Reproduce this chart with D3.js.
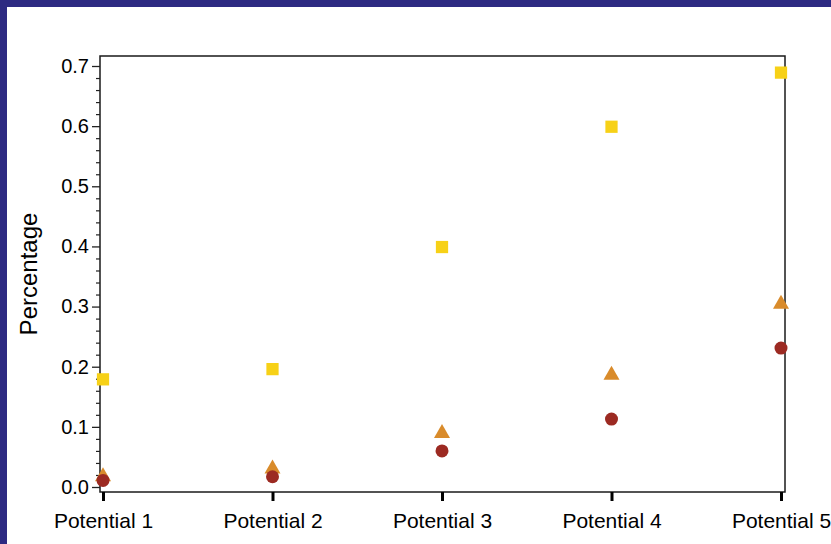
<!DOCTYPE html>
<html>
<head>
<meta charset="utf-8">
<script src="https://cdn.jsdelivr.net/npm/d3@7"></script>
<style>
  html, body { margin: 0; padding: 0; background: #2d2a82; }
  svg { display: block; }
  text { font-family: "Liberation Sans", Arial, sans-serif; fill: #000; }
</style>
</head>
<body>
<svg id="chart" width="831" height="544"></svg>
<script>
const categories = ["Potential 1", "Potential 2", "Potential 3", "Potential 4", "Potential 5"];
const squareValues = [0.179, 0.196, 0.399, 0.599, 0.689];
const triangleValues = [0.021, 0.034, 0.093, 0.19, 0.308];
const circleValues = [0.011, 0.017, 0.06, 0.113, 0.231];
const yTickValues = [0.0, 0.1, 0.2, 0.3, 0.4, 0.5, 0.6, 0.7];
const yMinorTickValues = [0.02,0.04,0.06,0.08,0.12,0.14,0.16,0.18,0.22,0.24,0.26,0.28,0.32,0.34,0.36,0.38,0.42,0.44,0.46,0.48,0.52,0.54,0.56,0.58,0.62,0.64,0.66,0.68];
const yLabel = "Percentage";

const svg = d3.select("#chart");
const W = 831, H = 544;

svg.append("rect").attr("x", 0).attr("y", 0).attr("width", W).attr("height", H).attr("fill", "#2d2a82");
svg.append("rect").attr("x", 7).attr("y", 7).attr("width", W - 7).attr("height", H - 7).attr("fill", "#ffffff");

const frame = { left: 100, right: 785, top: 56, bottom: 492 };

const y = d3.scaleLinear().domain([0, 0.7]).range([487, 66]);
const x = d3.scalePoint().domain(categories).range([103, 781]);

// frame
svg.append("rect")
  .attr("x", frame.left).attr("y", frame.top)
  .attr("width", frame.right - frame.left).attr("height", frame.bottom - frame.top)
  .attr("fill", "none").attr("stroke", "#1a1a1a").attr("stroke-width", 1.5);

// y axis major
const yAxis = d3.axisLeft(y).tickValues(yTickValues).tickFormat(d3.format(".1f")).tickSize(8).tickSizeOuter(0).tickPadding(3);
const gy = svg.append("g").attr("transform", `translate(${frame.left},0)`).call(yAxis);
gy.select(".domain").remove();
gy.selectAll(".tick line").attr("stroke", "#222").attr("stroke-width", 1.3);
gy.selectAll(".tick text").style("font-size", "20px").style("font-family", "'Liberation Sans', Arial, sans-serif").attr("fill", "#000");

// y axis minor
const yMinor = d3.axisLeft(y).tickValues(yMinorTickValues).tickFormat("").tickSize(4).tickSizeOuter(0);
const gym = svg.append("g").attr("transform", `translate(${frame.left},0)`).call(yMinor);
gym.select(".domain").remove();
gym.selectAll(".tick line").attr("stroke", "#222").attr("stroke-width", 1.2);

// x axis
const xAxis = d3.axisBottom(x).tickSize(9).tickSizeOuter(0).tickPadding(12);
const gx = svg.append("g").attr("transform", `translate(0,${frame.bottom})`).call(xAxis);
gx.select(".domain").remove();
gx.selectAll(".tick line").attr("stroke", "#000").attr("stroke-width", 3);
gx.selectAll(".tick text").style("font-size", "21px").style("font-family", "'Liberation Sans', Arial, sans-serif").attr("fill", "#000");

// y label
svg.append("text")
  .attr("transform", `translate(37,${(frame.top + frame.bottom) / 2}) rotate(-90)`)
  .attr("text-anchor", "middle")
  .style("font-size", "24px")
  .text(yLabel);

// markers
const tri = "M0,-7L8,7L-8,7Z";
svg.append("g").selectAll("path").data(triangleValues).join("path")
  .attr("d", tri)
  .attr("transform", (d, i) => `translate(${x(categories[i])},${y(d)})`)
  .attr("fill", "#d98b2b");

svg.append("g").selectAll("circle").data(circleValues).join("circle")
  .attr("cx", (d, i) => x(categories[i]))
  .attr("cy", d => y(d))
  .attr("r", 6.5)
  .attr("fill", "#9c2a22");

svg.append("g").selectAll("path").data(squareValues).join("path")
  .attr("d", d3.symbol().type(d3.symbolSquare).size(150))
  .attr("transform", (d, i) => `translate(${x(categories[i])},${y(d)})`)
  .attr("fill", "#f7d117");
</script>
</body>
</html>
